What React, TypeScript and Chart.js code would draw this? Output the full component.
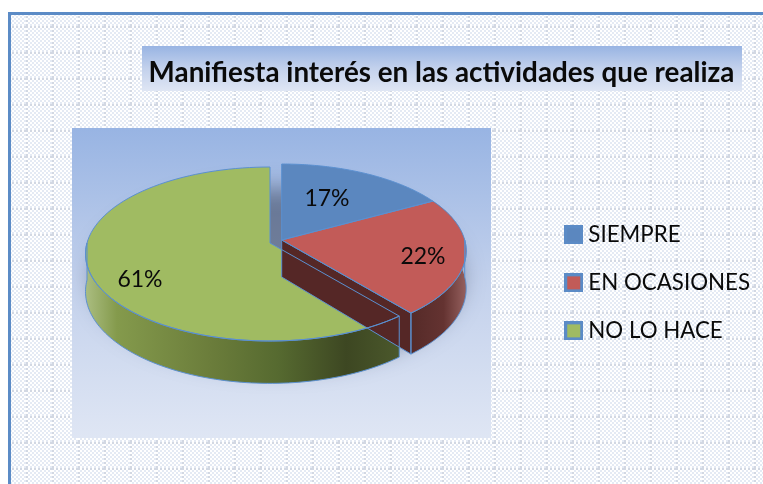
import { useEffect, useRef } from "react";
import { Chart, registerables } from "chart.js";

Chart.register(...registerables);

const categories = ["SIEMPRE", "EN OCASIONES", "NO LO HACE"];
const shares = [17, 22, 61];
const titleText = "Manifiesta interés en las actividades que realiza";
const topColors = ["#5b87bf", "#c25b58", "#a0bb62"];
const edgeColor = "#5b90d0";

// Projection of the pie disc (perspective view)
const VIEW = { radius: 183, squash: 85.6, persp: 0.1265, depth: 37 };
const sliceOrigins = [
  { x: 281.7, y: 240 },
  { x: 281.7, y: 240 },
  { x: 270, y: 243 },
];
const labelSpots = [
  { x: 327, y: 199 },
  { x: 423, y: 257 },
  { x: 140, y: 280 },
];
const LEGEND_POS = { left: 544.5, top: 198 };

function project(i: number, angle: number, drop = 0) {
  const o = sliceOrigins[i];
  const u = Math.cos(angle);
  const v = -Math.sin(angle);
  const d = 1 + VIEW.persp * v;
  return {
    x: o.x + (VIEW.radius * u) / d,
    y: o.y - (VIEW.squash * v) / d + (drop * VIEW.depth) / d,
  };
}
function apex(i: number, drop = 0) {
  const o = sliceOrigins[i];
  return { x: o.x, y: o.y + drop * VIEW.depth };
}
function rim(ctx: CanvasRenderingContext2D, i: number, a0: number, a1: number, drop = 0, move = false) {
  const n = 90;
  for (let k = 0; k <= n; k++) {
    const p = project(i, a0 + ((a1 - a0) * k) / n, drop);
    if (k === 0 && move) ctx.moveTo(p.x, p.y);
    else ctx.lineTo(p.x, p.y);
  }
}
function topFace(ctx: CanvasRenderingContext2D, i: number, a0: number, a1: number) {
  ctx.beginPath();
  const c = apex(i);
  ctx.moveTo(c.x, c.y);
  rim(ctx, i, a0, a1);
  ctx.closePath();
}
function outerWall(ctx: CanvasRenderingContext2D, i: number, a0: number, a1: number) {
  ctx.beginPath();
  rim(ctx, i, a0, a1, 0, true);
  rim(ctx, i, a1, a0, 1);
  ctx.closePath();
}
function cutWall(ctx: CanvasRenderingContext2D, i: number, a: number) {
  const c0 = apex(i);
  const c1 = apex(i, 1);
  const p0 = project(i, a);
  const p1 = project(i, a, 1);
  ctx.beginPath();
  ctx.moveTo(c0.x, c0.y);
  ctx.lineTo(p0.x, p0.y);
  ctx.lineTo(p1.x, p1.y);
  ctx.lineTo(c1.x, c1.y);
  ctx.closePath();
}

function panel(ctx: CanvasRenderingContext2D, x: number, y: number, w: number, h: number) {
  const g = ctx.createLinearGradient(0, y, 0, y + h);
  g.addColorStop(0, "#98b4e3");
  g.addColorStop(0.5, "#c3d1ec");
  g.addColorStop(1, "#dfe6f4");
  ctx.fillStyle = g;
  ctx.fillRect(x, y, w, h);
}

function swatch(color: string) {
  const c = document.createElement("canvas");
  c.width = 19;
  c.height = 19;
  const t = c.getContext("2d")!;
  t.fillStyle = "#5b8bc6";
  t.fillRect(0, 0, 19, 19);
  t.fillStyle = color;
  t.fillRect(3, 3, 13, 13);
  return c;
}

const backdrop = {
  id: "backdrop",
  afterLayout(chart: any) {
    const lg = chart.legend;
    const h = lg.bottom - lg.top;
    const w = lg.right - lg.left;
    lg.left = LEGEND_POS.left;
    lg.right = lg.left + w;
    lg.top = LEGEND_POS.top;
    lg.bottom = lg.top + h;
  },
  beforeDraw(chart: Chart) {
    const ctx = chart.ctx;
    const tile = document.createElement("canvas");
    tile.width = 26;
    tile.height = 26;
    const t = tile.getContext("2d")!;
    t.fillStyle = "#ffffff";
    t.fillRect(0, 0, 26, 26);
    for (let y = 0; y < 26; y += 2) {
      for (let x = 0; x < 26; x += 2) {
        if ((x + y) % 4 === 0) {
          const line = x < 2 || y < 2;
          t.fillStyle = line ? "#d2d8e3" : "#e4eaf4";
          t.fillRect(x, y, 2, 2);
        }
      }
    }
    ctx.save();
    ctx.fillStyle = ctx.createPattern(tile, "repeat")!;
    ctx.fillRect(11, 15, 752, 469);
    ctx.fillStyle = "#5b8bc6";
    ctx.fillRect(8, 12, 755, 3);
    ctx.fillRect(8, 12, 3, 472);
    panel(ctx, 142, 46, 600, 45);
    panel(ctx, 72, 128, 419, 310);
    ctx.restore();
  },
};

const pie3d = {
  id: "pie3d",
  beforeDatasetDraw(chart: Chart) {
    const ctx = chart.ctx;
    const arcs = chart.getDatasetMeta(0).data as any[];
    const ang = arcs.map((a) => ({ s: a.startAngle as number, e: a.endAngle as number }));
    ctx.save();

    // soft shadow below the pie
    ctx.save();
    ctx.beginPath();
    ctx.rect(72, 128, 419, 310);
    ctx.clip();
    ctx.shadowColor = "rgba(50,60,85,0.55)";
    ctx.shadowBlur = 22;
    ctx.shadowOffsetX = 1000;
    ctx.shadowOffsetY = 0;
    ctx.fillStyle = "#000";
    ctx.beginPath();
    ctx.ellipse(277 - 1000, 278, 184, 90, 0, 0, Math.PI * 2);
    ctx.fill();
    ctx.restore();

    // green slice: wall then top
    const gs = ang[2].s;
    const wallEnd = Math.PI;
    const gg = ctx.createLinearGradient(86, 0, 396, 0);
    gg.addColorStop(0, "#aabd80");
    gg.addColorStop(0.1, "#849a4c");
    gg.addColorStop(0.4, "#6b7d3b");
    gg.addColorStop(0.62, "#566a30");
    gg.addColorStop(0.84, "#3d4722");
    gg.addColorStop(1, "#4a572b");
    outerWall(ctx, 2, gs, wallEnd);
    ctx.fillStyle = gg;
    ctx.fill();
    topFace(ctx, 2, ang[2].s, ang[2].e);
    ctx.fillStyle = topColors[2];
    ctx.fill();

    // red slice walls
    cutWall(ctx, 1, ang[1].e);
    ctx.fillStyle = "#552726";
    ctx.fill();
    const rg = ctx.createLinearGradient(410, 0, 466, 0);
    rg.addColorStop(0, "#552a28");
    rg.addColorStop(0.6, "#643331");
    rg.addColorStop(1, "#95605e");
    outerWall(ctx, 1, ang[1].s, ang[1].e);
    ctx.fillStyle = rg;
    ctx.fill();

    // blue and red tops
    topFace(ctx, 0, ang[0].s, ang[0].e);
    ctx.fillStyle = topColors[0];
    ctx.fill();
    topFace(ctx, 1, ang[1].s, ang[1].e);
    ctx.fillStyle = topColors[1];
    ctx.fill();

    // outlines
    ctx.strokeStyle = edgeColor;
    ctx.lineWidth = 1;
    outerWall(ctx, 2, gs, wallEnd);
    ctx.stroke();
    topFace(ctx, 2, ang[2].s, ang[2].e);
    ctx.stroke();
    cutWall(ctx, 1, ang[1].e);
    ctx.stroke();
    outerWall(ctx, 1, 0, ang[1].e);
    ctx.stroke();
    topFace(ctx, 1, ang[1].s, ang[1].e);
    ctx.stroke();
    topFace(ctx, 0, ang[0].s, ang[0].e);
    ctx.stroke();

    // percentage labels
    ctx.fillStyle = "#0a0a0a";
    ctx.font = "23px Lato";
    ctx.textAlign = "center";
    ctx.textBaseline = "middle";
    shares.forEach((v, i) => ctx.fillText(`${v}%`, labelSpots[i].x, labelSpots[i].y));
    ctx.restore();
    return false;
  },
};

export default function App() {
  const ref = useRef<HTMLCanvasElement>(null);
  useEffect(() => {
    document.body.style.margin = "0";
    const chart = new Chart(ref.current!, {
      type: "pie",
      data: {
        labels: categories,
        datasets: [{ data: shares, backgroundColor: topColors, borderColor: edgeColor, borderWidth: 1 }],
      },
      options: {
        responsive: false,
        animation: false,
        events: [],
        layout: { padding: { left: 133, right: 13, top: 0, bottom: 8 } },
        plugins: {
          tooltip: { enabled: false },
          title: {
            display: true,
            text: titleText,
            color: "#0a0a0a",
            font: { family: "Lato", size: 27.8, weight: "bold" },
            padding: { top: 56, bottom: 3 },
          },
          legend: {
            position: "right",
            align: "start",
            labels: {
              color: "#0a0a0a",
              font: { family: "Lato", size: 22.3 },
              usePointStyle: true,
              pointStyleWidth: 7,
              boxHeight: 16,
              padding: 25.7,
              generateLabels: (c: Chart) =>
                (c.data.labels as string[]).map((text, i) => ({
                  text,
                  fillStyle: topColors[i],
                  strokeStyle: "#5b8bc6",
                  lineWidth: 0,
                  pointStyle: swatch(topColors[i]),
                  fontColor: "#0a0a0a",
                  index: i,
                })),
            },
          },
        },
      },
      plugins: [backdrop, pie3d],
    } as any);
    return () => chart.destroy();
  }, []);
  return <canvas ref={ref} width={763} height={484} style={{ position: "absolute", left: 0, top: 0, display: "block" }} />;
}
